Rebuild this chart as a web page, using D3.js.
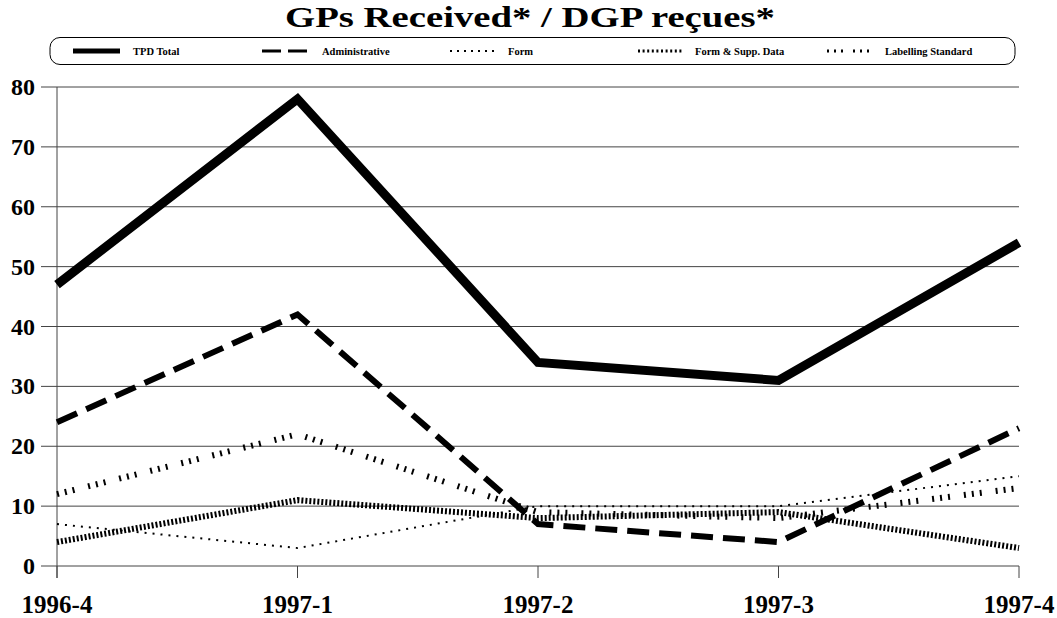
<!DOCTYPE html>
<html>
<head>
<meta charset="utf-8">
<script src="https://cdn.jsdelivr.net/npm/d3@7"></script>
<style>
body { margin: 0; background: #fff; }
svg text { font-family: "Liberation Serif", "Times New Roman", serif; font-weight: bold; }
</style>
</head>
<body>
<div id="idChart"></div>
<script>
var categories = ["1996-4", "1997-1", "1997-2", "1997-3", "1997-4"];
var yTicks = [0, 10, 20, 30, 40, 50, 60, 70, 80];

var tpdTotal = [47, 78, 34, 31, 54];
var administrative = [24, 42, 7, 4, 23];
var form = [7, 3, 10, 10, 15];
var formSupp = [4, 11, 8, 9, 3];
var labelling = [12, 22, 9, 8, 13];

var seriesNames = ["TPD Total", "Administrative", "Form", "Form & Supp. Data", "Labelling Standard"];
var seriesValues = [tpdTotal, administrative, form, formSupp, labelling];

// line styles per series (plot, legend)
var styles = [
    {width: 9, dash: null, lw: 5, ldash: null},
    {width: 6, dash: "22,10", lw: 3, ldash: "19,7"},
    {width: 2, dash: "2,6", lw: 2, ldash: "2,5"},
    {width: 6, dash: "2,2", lw: 3, ldash: "2,2.6"},
    {width: 6, dash: "2,6,2,6,2,14", lw: 3, ldash: "2,5,2,5,2,10,2,5"}
];
var legendLine = [[73, 120], [262, 307], [450, 495], [638, 683], [827, 870]];
var legendText = [133, 322, 508, 695, 885];

var iWidth = 1057, iHeight = 618;
var margin = {top: 87, right: 38, bottom: 52, left: 57};

var svg = d3.select("#idChart").append("svg")
    .attr("width", iWidth).attr("height", iHeight);

var x = d3.scalePoint()
    .domain(categories)
    .range([margin.left, iWidth - margin.right]);

var y = d3.scaleLinear()
    .domain([0, 80])
    .range([iHeight - margin.bottom, margin.top]);

// title
svg.append("text")
    .attr("x", 530).attr("y", 27)
    .attr("text-anchor", "middle")
    .attr("textLength", 490)
    .attr("lengthAdjust", "spacingAndGlyphs")
    .style("font-size", "29px")
    .text("GPs Received* / DGP reçues*");

// legend
svg.append("rect")
    .attr("x", 50).attr("y", 37.5).attr("width", 965).attr("height", 27)
    .attr("rx", 10).attr("ry", 10)
    .attr("fill", "none").attr("stroke", "#000").attr("stroke-width", 1);

seriesNames.forEach(function(name, i) {
    svg.append("line")
        .attr("x1", legendLine[i][0]).attr("x2", legendLine[i][1])
        .attr("y1", 51).attr("y2", 51)
        .attr("stroke", "#000")
        .attr("stroke-width", styles[i].lw)
        .attr("stroke-dasharray", styles[i].ldash);
    svg.append("text")
        .attr("x", legendText[i])
        .attr("y", 54.5)
        .style("font-size", "10.5px")
        .text(name);
});

// gridlines
svg.append("g").selectAll("line")
    .data(yTicks)
    .enter().append("line")
    .attr("x1", 41).attr("x2", iWidth - margin.right)
    .attr("y1", function(d) { return y(d); })
    .attr("y2", function(d) { return y(d); })
    .attr("stroke", "#444").attr("stroke-width", 1);

// y axis line
svg.append("line")
    .attr("x1", margin.left).attr("x2", margin.left)
    .attr("y1", y(80)).attr("y2", y(0) + 12)
    .attr("stroke", "#444").attr("stroke-width", 1);

// x axis ticks
svg.append("g").selectAll("line")
    .data(categories)
    .enter().append("line")
    .attr("x1", function(d) { return x(d); })
    .attr("x2", function(d) { return x(d); })
    .attr("y1", y(0)).attr("y2", y(0) + 12)
    .attr("stroke", "#444").attr("stroke-width", 1);

// y tick labels
svg.append("g").selectAll("text")
    .data(yTicks)
    .enter().append("text")
    .attr("x", 35)
    .attr("y", function(d) { return y(d) + 8; })
    .attr("text-anchor", "end")
    .style("font-size", "24px")
    .text(function(d) { return d; });

// x tick labels
svg.append("g").selectAll("text")
    .data(categories)
    .enter().append("text")
    .attr("x", function(d) { return x(d); })
    .attr("y", 613)
    .attr("text-anchor", "middle")
    .style("font-size", "25px")
    .text(function(d) { return d; });

var valueLine = d3.line()
    .x(function(d, i) { return x(categories[i]); })
    .y(function(d) { return y(d); });

// draw thin lines first, total last
[4, 3, 2, 1, 0].forEach(function(i) {
    svg.append("path")
        .attr("d", valueLine(seriesValues[i]))
        .attr("fill", "none")
        .attr("stroke", "#000")
        .attr("stroke-width", styles[i].width)
        .attr("stroke-linejoin", "miter")
        .attr("stroke-dasharray", styles[i].dash);
});
</script>
</body>
</html>
